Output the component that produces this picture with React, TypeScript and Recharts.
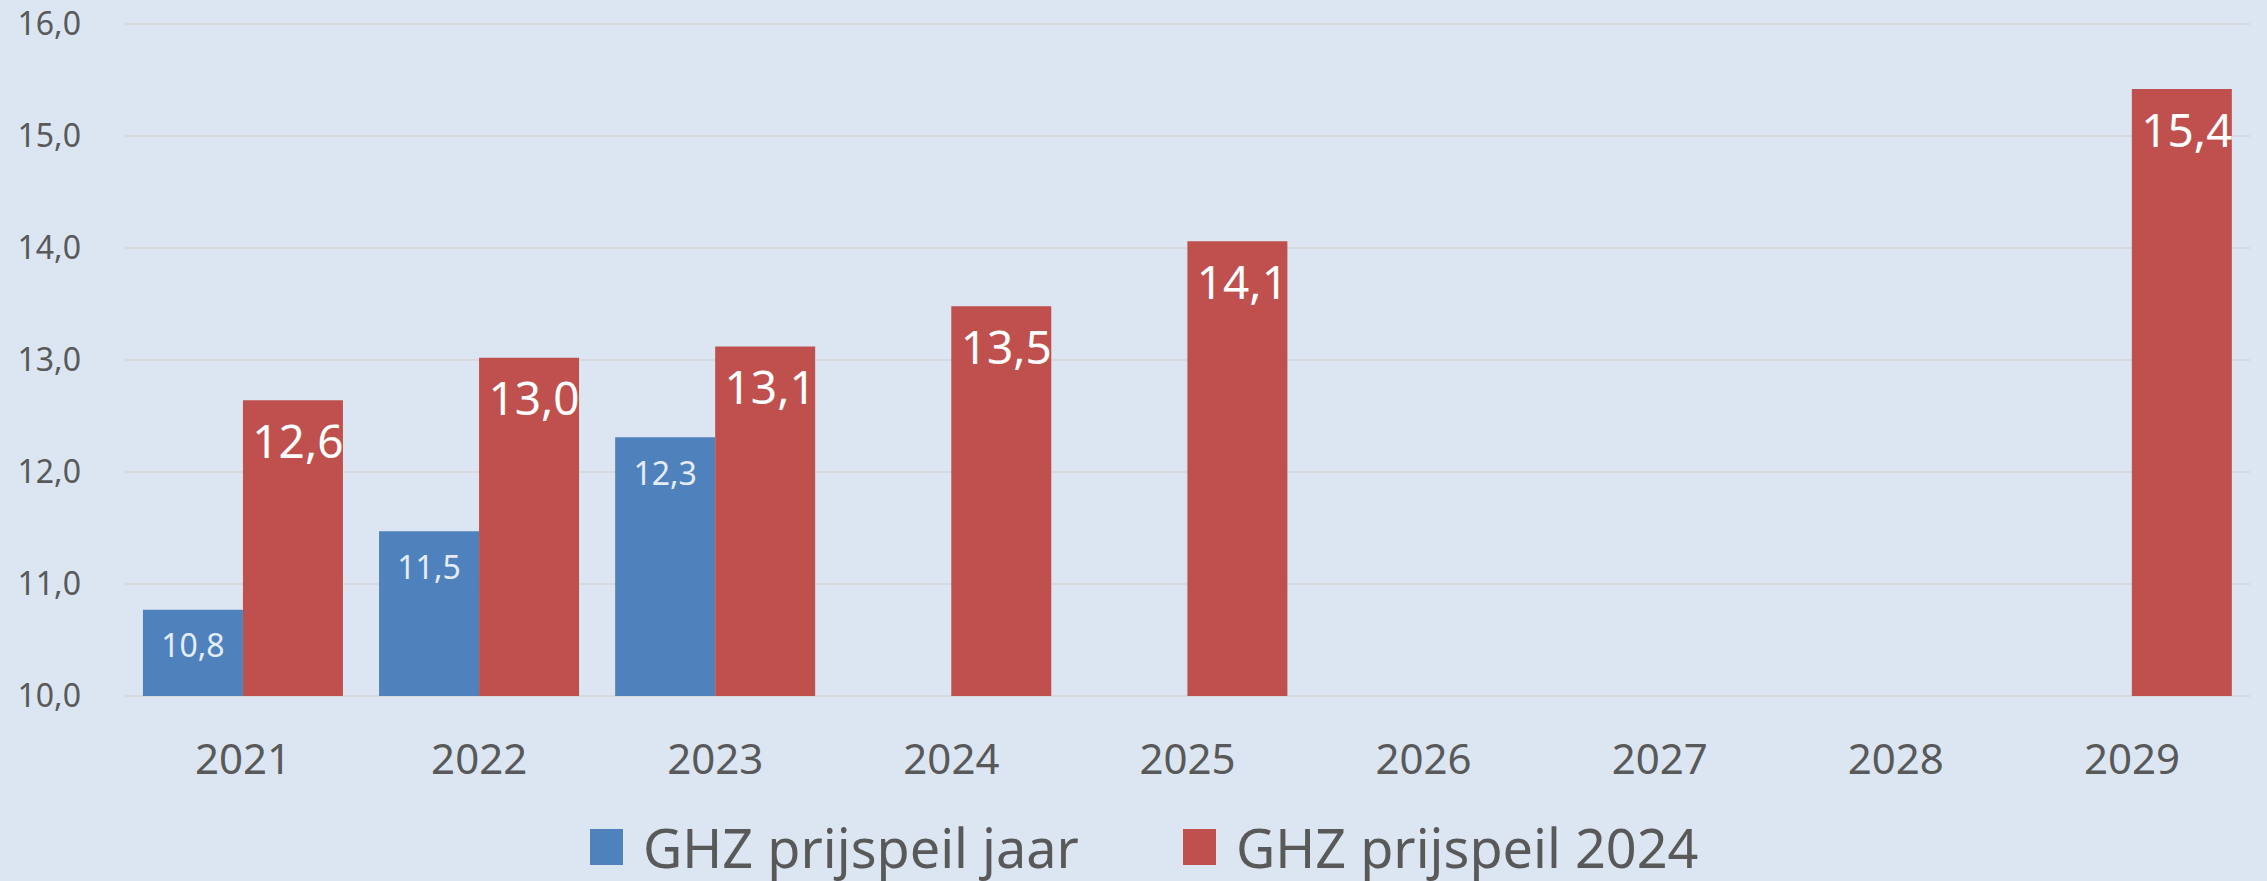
import { BarChart, Bar, XAxis, YAxis, CartesianGrid, Legend, LabelList } from "recharts";

const years = ["2021", "2022", "2023", "2024", "2025", "2026", "2027", "2028", "2029"];
const prijspeilJaar = [10.77, 11.47, 12.31, null, null, null, null, null, null];
const prijspeil2024 = [12.64, 13.02, 13.12, 13.48, 14.06, null, null, null, 15.42];
const yTicks = [10, 11, 12, 13, 14, 15, 16];

const BLUE = "#4f81bd";
const RED = "#c0504d";
const BG = "#dce6f2";
const TEXT = "#595959";
const FONT = "'Noto Sans', 'Open Sans', sans-serif";

const data = years.map((year, i) => ({
  year,
  jaar: prijspeilJaar[i],
  p2024: prijspeil2024[i],
}));

const fmt = (v: any) => (v == null ? "" : Number(v).toFixed(1).replace(".", ","));

const legendItems = [
  { label: "GHZ prijspeil jaar", color: BLUE },
  { label: "GHZ prijspeil 2024", color: RED },
];

function LegendContent() {
  return (
    <div style={{ display: "flex", alignItems: "center", paddingLeft: 590, fontFamily: FONT }}>
      {legendItems.map((item, i) => (
        <div key={item.label} style={{ display: "flex", alignItems: "center", marginRight: i === 0 ? 104 : 0 }}>
          <div style={{ width: 33, height: 36, background: item.color, marginRight: 20 }} />
          <span style={{ fontSize: 54, color: TEXT, lineHeight: "60px" }}>{item.label}</span>
        </div>
      ))}
    </div>
  );
}

export default function App() {
  return (
    <div style={{ position: "absolute", left: 0, top: 0, width: 2267, height: 881, background: BG }}>
      <BarChart
        width={2267}
        height={881}
        data={data}
        margin={{ top: 24, right: 17, left: 0, bottom: 4 }}
        barCategoryGap="7.6%"
        barGap={0}
      >
        <CartesianGrid vertical={false} stroke="#d6d9de" strokeWidth={2} />
        <XAxis
          dataKey="year"
          axisLine={false}
          tickLine={false}
          height={121}
          tickMargin={42}
          tick={{ fill: TEXT, fontSize: 42, fontFamily: FONT }}
        />
        <YAxis
          domain={[10, 16]}
          ticks={yTicks}
          width={125}
          axisLine={false}
          tickLine={false}
          tickMargin={38}
          tickFormatter={fmt}
          tick={{ fill: TEXT, fontSize: 32, fontFamily: FONT }}
        />
        <Legend verticalAlign="bottom" height={60} wrapperStyle={{ left: 0, width: 2267 }} content={<LegendContent />} />
        <Bar dataKey="jaar" name="GHZ prijspeil jaar" fill={BLUE} isAnimationActive={false}>
          <LabelList
            dataKey="jaar"
            position="insideTop"
            offset={25}
            formatter={fmt}
            fill="#e4ecf7"
            fontSize={32}
            fontFamily={FONT}
          />
        </Bar>
        <Bar dataKey="p2024" name="GHZ prijspeil 2024" fill={RED} isAnimationActive={false}>
          <LabelList
            dataKey="p2024"
            position="insideTop"
            offset={25}
            dx={5}
            formatter={fmt}
            fill="#ffffff"
            fontSize={46}
            fontFamily={FONT}
          />
        </Bar>
      </BarChart>
    </div>
  );
}
